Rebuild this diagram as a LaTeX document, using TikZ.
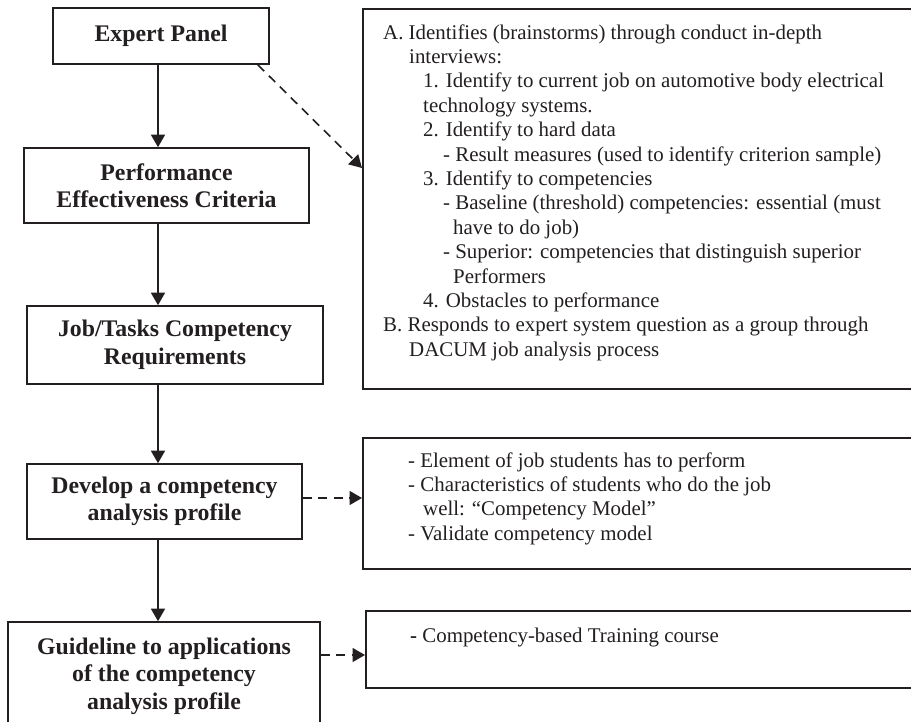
\documentclass[tikz,border=0pt]{standalone}
\usepackage{fontspec}
\setmainfont{Liberation Serif}
\usetikzlibrary{arrows.meta}
\definecolor{ink}{HTML}{231F20}
\begin{document}
\begin{tikzpicture}[x=1pt,y=-1pt,
  lbox/.style={draw=ink, line width=1.6pt, align=center, text=ink, inner sep=0pt,
    font=\bfseries\fontsize{23.8}{27.5}\selectfont},
  rbox/.style={draw=ink, line width=1.6pt, anchor=north west, inner sep=0pt},
  rtext/.style={anchor=north west, align=left, inner sep=0pt, text=ink,
    font=\fontsize{20.9}{24.4}\selectfont},
  flow/.style={draw=ink, line width=1.6pt, -{Triangle[width=14pt,length=12.5pt]}},
  dflow/.style={flow, dash pattern=on 9pt off 6.5pt}]
\useasboundingbox (0,0) rectangle (911,722);
\clip (0,0) rectangle (911,722);
\fill[white] (0,0) rectangle (911,722);
\coordinate (ax) at (158,0);
% left column
\node[lbox, minimum width=216pt, minimum height=56pt] (expert) at (161,36) {Expert Panel};
\node[lbox, minimum width=285pt, minimum height=75pt] (perf) at (166.5,185.5) {Performance\\Effectiveness Criteria};
\node[lbox, minimum width=296pt, minimum height=78pt] (job) at (175,345) {Job/Tasks Competency\\Requirements};
\node[lbox, minimum width=275pt, minimum height=75pt] (dev) at (164.5,501.5) {Develop a competency\\analysis profile};
\node[lbox, minimum width=312pt, minimum height=108pt] (guide) at (164,676) {Guideline to applications\\of the competency\\analysis profile};
% right column
\node[rbox, minimum width=570pt, minimum height=380pt] (ident) at (362,8) {};
\node[rbox, minimum width=570pt, minimum height=131pt] (elem) at (362,437) {};
\node[rbox, minimum width=570pt, minimum height=77pt] (course) at (365,610) {};
\node[rtext] (identtext) at (383,21.9) {\strut A. Identifies (brainstorms) through conduct in-depth\\
\hspace*{26pt}interviews:\\
\hspace*{40pt}1. Identify to current job on automotive body electrical\\
\hspace*{40pt}technology systems.\\
\hspace*{40pt}2. Identify to hard data\\
\hspace*{60pt}- Result measures (used to identify criterion sample)\\
\hspace*{40pt}3. Identify to competencies\\
\hspace*{60pt}- Baseline (threshold) competencies: essential (must\\
\hspace*{70pt}have to do job)\\
\hspace*{60pt}- Superior: competencies that distinguish superior\\
\hspace*{70pt}Performers\\
\hspace*{40pt}4. Obstacles to performance\\
B. Responds to expert system question as a group through\\
\hspace*{26pt}DACUM job analysis process};
\node[rtext] (elemtext) at (408,449.9) {\strut - Element of job students has to perform\\
- Characteristics of students who do the job\\
\hspace*{15pt}well: “Competency Model”\\
- Validate competency model};
\node[rtext] (coursetext) at (410,624.9) {\strut{\bfseries -} Competency-based Training course};
% connectors
\draw[flow] (expert.south -| ax) -- (perf.north -| ax);
\draw[flow] (perf.south -| ax) -- (job.north -| ax);
\draw[flow] (job.south -| ax) -- (dev.north -| ax);
\draw[flow] (dev.south -| ax) -- (guide.north -| ax);
\draw[dflow] ([xshift=-12pt]expert.south east) -- ([yshift=-160pt]ident.north west);
\draw[dflow] ([yshift=3.5pt]dev.east) -- ([yshift=3.5pt]dev.east -| elem.west);
\draw[dflow] ([yshift=21pt]guide.east) -- ([yshift=21pt]guide.east -| course.west);
\end{tikzpicture}
\end{document}
